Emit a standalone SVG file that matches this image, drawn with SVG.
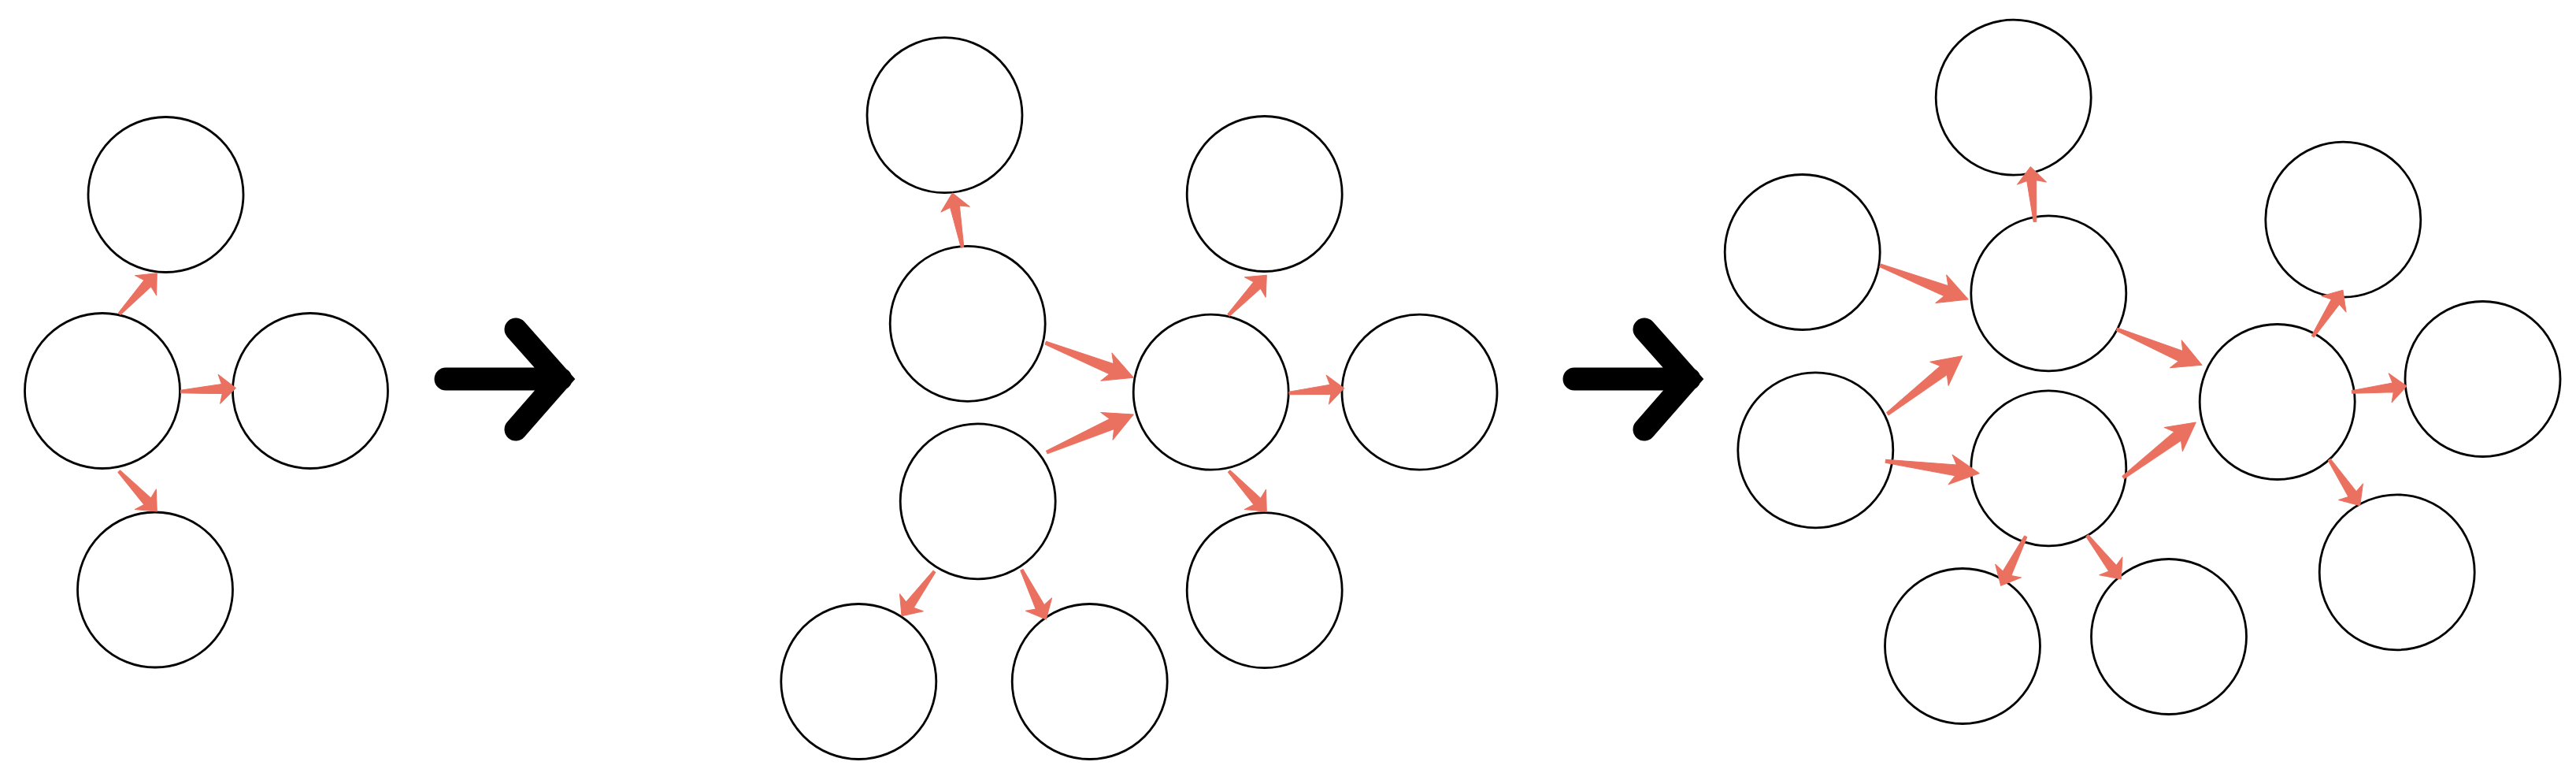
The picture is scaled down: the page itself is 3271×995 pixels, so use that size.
<svg xmlns="http://www.w3.org/2000/svg" xmlns:xlink="http://www.w3.org/1999/xlink" width="3271" height="995" viewBox="0 0 3271 995">
<style>
.node{fill:#fff;stroke:#000;stroke-width:2.8}
.arr{fill:#EA7060;stroke:#EA7060;stroke-width:1;stroke-linejoin:round}
.big{fill:none;stroke:#000;stroke-width:29;stroke-linecap:round;stroke-linejoin:miter;stroke-miterlimit:4}
</style>
<defs>
<path id="aS" class="arr" d="M-70,-1.8 L-17.5,-6 L-21,-18.5 L0,0 L-21,18.5 L-17.5,6 L-70,1.8 Z"/>
<path id="aL" class="arr" d="M-120,-2 L-30,-7 L-37,-19 L0,0 L-37,19 L-30,7 L-120,2 Z"/>
<path id="bigArrow" class="big" d="M566,481 H712 M655,418 L711,481 L655,545"/>
</defs>
<rect width="3271" height="995" fill="#fff"/>

<g id="panel1">
<g id="p1-top"><circle class="node" cx="210.5" cy="247" r="98.5"/></g>
<g id="p1-center"><circle class="node" cx="130" cy="496" r="98.5"/></g>
<g id="p1-right"><circle class="node" cx="394" cy="496" r="98.5"/></g>
<g id="p1-bottom"><circle class="node" cx="197" cy="748.5" r="98.5"/></g>
</g>

<g id="panel2">
<g id="p2-topleft"><circle class="node" cx="1199.5" cy="146.2" r="98.5"/></g>
<g id="p2-upperleft"><circle class="node" cx="1228.7" cy="410.8" r="98.5"/></g>
<g id="p2-lowerleft"><circle class="node" cx="1241.7" cy="636.3" r="98.5"/></g>
<g id="p2-bottomleft"><circle class="node" cx="1090.3" cy="865" r="98.5"/></g>
<g id="p2-bottommid"><circle class="node" cx="1383.7" cy="865" r="98.5"/></g>
<g id="p2-hub"><circle class="node" cx="1537.7" cy="497.7" r="98.5"/></g>
<g id="p2-topright"><circle class="node" cx="1605.7" cy="246" r="98.5"/></g>
<g id="p2-right"><circle class="node" cx="1802.5" cy="497.7" r="98.5"/></g>
<g id="p2-bottomright"><circle class="node" cx="1605.7" cy="749.2" r="98.5"/></g>
</g>

<g id="panel3">
<g id="p3-top"><circle class="node" cx="2556.7" cy="123.7" r="98.5"/></g>
<g id="p3-leftupper"><circle class="node" cx="2288.7" cy="320" r="98.5"/></g>
<g id="p3-leftlower"><circle class="node" cx="2305.3" cy="571.3" r="98.5"/></g>
<g id="p3-hub1"><circle class="node" cx="2601.3" cy="372.3" r="98.5"/></g>
<g id="p3-hub2"><circle class="node" cx="2601.3" cy="594.3" r="98.5"/></g>
<g id="p3-bottomleft"><circle class="node" cx="2492" cy="820" r="98.5"/></g>
<g id="p3-bottommid"><circle class="node" cx="2754" cy="808" r="98.5"/></g>
<g id="p3-hub3"><circle class="node" cx="2891.7" cy="510" r="98.5"/></g>
<g id="p3-topright"><circle class="node" cx="2975.3" cy="278.7" r="98.5"/></g>
<g id="p3-right"><circle class="node" cx="3152.5" cy="481" r="98.5"/></g>
<g id="p3-bottomright"><circle class="node" cx="3043.7" cy="726.3" r="98.5"/></g>
</g>

<g id="connectors">
<use xlink:href="#aS" transform="translate(199.3,346.8) rotate(-47.2)"/>
<use xlink:href="#aS" transform="translate(299.3,492.4) rotate(-3.8)"/>
<use xlink:href="#aS" transform="translate(199.3,649) rotate(46.6)"/>

<use xlink:href="#aS" transform="translate(1209.3,245) rotate(-100.5)"/>
<use xlink:href="#aL" transform="translate(1439.3,479.3) rotate(21.6)"/>
<use xlink:href="#aL" transform="translate(1439.3,526) rotate(-23.6)"/>
<use xlink:href="#aS" transform="translate(1145,781.7) rotate(126.3)"/>
<use xlink:href="#aS" transform="translate(1328.3,786) rotate(63.8)"/>
<use xlink:href="#aS" transform="translate(1608.3,349.3) rotate(-46.4)"/>
<use xlink:href="#aS" transform="translate(1706.7,492.7) rotate(-5.1)"/>
<use xlink:href="#aS" transform="translate(1608.3,649.3) rotate(47.1)"/>

<use xlink:href="#aS" transform="translate(2578.3,211.7) rotate(-94.7)"/>
<use xlink:href="#aL" transform="translate(2499.3,380) rotate(21.1)"/>
<use xlink:href="#aL" transform="translate(2491.7,451.7) rotate(-37.8)"/>
<use xlink:href="#aL" transform="translate(2513.3,600.7) rotate(7.4)"/>
<use xlink:href="#aS" transform="translate(2540.7,743.3) rotate(116.8)"/>
<use xlink:href="#aS" transform="translate(2693.3,735) rotate(52.1)"/>
<use xlink:href="#aL" transform="translate(2796,463.3) rotate(22.8) scale(0.975,1)"/>
<use xlink:href="#aL" transform="translate(2788.3,536) rotate(-37.2) scale(0.965,1)"/>
<use xlink:href="#aS" transform="translate(2975,368.3) rotate(-57)"/>
<use xlink:href="#aS" transform="translate(3056,490) rotate(-6.1)"/>
<use xlink:href="#aS" transform="translate(2996.7,641.7) rotate(56.3)"/>
</g>

<g id="transition-arrows">
<use xlink:href="#bigArrow"/>
<use xlink:href="#bigArrow" transform="translate(1433,0)"/>
</g>
</svg>
